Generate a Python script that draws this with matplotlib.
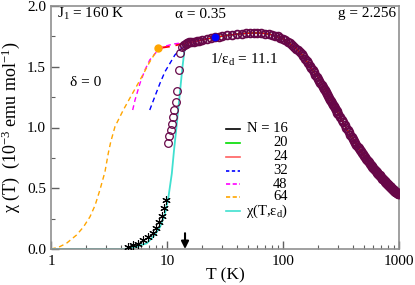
import matplotlib
matplotlib.use("Agg")
import matplotlib.pyplot as plt
from matplotlib.lines import Line2D

plt.rcParams['font.family'] = ['Liberation Serif', 'DejaVu Serif']
plt.rcParams['mathtext.fontset'] = 'custom'
plt.rcParams['mathtext.rm'] = 'Liberation Serif'
plt.rcParams['mathtext.it'] = 'Liberation Serif:italic'

# ---------------- data ----------------
# experimental data (open circles)
exp_T = [10.2, 10.5, 10.8, 11.0, 11.3, 11.6, 11.9, 12.2, 12.7, 13.0, 13.5,
         14, 14.5, 15, 15.5, 16, 17, 18, 19, 20, 22, 24, 26, 28, 30, 33, 36, 40,
         44, 48, 52, 56, 60, 65, 70, 75,
         80, 85, 90, 95, 100, 105, 110, 115, 120, 125, 130, 135, 140, 145, 150,
         155, 160, 165, 170, 175, 180, 185, 190, 195,
         200, 205, 210, 215, 220, 225, 230, 235, 240, 245, 250, 255, 260, 265,
         270, 275, 280, 285, 290, 295,
         300, 310, 320, 330, 340, 350, 360, 370, 380, 390,
         400, 410, 420, 430, 440, 450, 460, 470, 480, 490,
         500, 510, 520, 530, 540, 550, 560, 570, 580, 590,
         600, 610, 620, 630, 640, 650, 660, 670, 680, 690,
         700, 710, 720, 730, 740, 750, 760, 770, 780, 790,
         800, 810, 820, 830, 840, 850, 860, 870, 880, 890,
         900, 910, 920, 930, 940, 950, 960, 970, 980, 990, 1000]
exp_chi = [0.87, 0.93, 0.98, 1.03, 1.09, 1.14, 1.21, 1.30, 1.47, 1.61, 1.66,
           1.68, 1.69, 1.695, 1.70, 1.70, 1.705, 1.71, 1.715, 1.72, 1.73, 1.735,
           1.742, 1.748, 1.752, 1.758, 1.763, 1.768, 1.772, 1.775, 1.777, 1.778,
           1.778, 1.776, 1.773, 1.769,
           1.763, 1.757, 1.75, 1.74, 1.73, 1.718, 1.705, 1.693, 1.68, 1.665,
           1.65, 1.635, 1.62, 1.603, 1.585, 1.567, 1.549, 1.53, 1.51, 1.49,
           1.47, 1.453, 1.435, 1.418,
           1.400, 1.383, 1.367, 1.351, 1.335, 1.320, 1.305, 1.290, 1.275, 1.260,
           1.245, 1.230, 1.215, 1.201, 1.187, 1.173, 1.160, 1.147, 1.135, 1.122,
           1.110, 1.087, 1.064, 1.042, 1.021, 1.000, 0.980, 0.960, 0.941, 0.922,
           0.905, 0.889, 0.873, 0.858, 0.843, 0.830, 0.817, 0.803, 0.790, 0.778,
           0.766, 0.755, 0.744, 0.733, 0.722, 0.713, 0.703, 0.694, 0.685, 0.676,
           0.668, 0.660, 0.652, 0.644, 0.636, 0.628, 0.620, 0.613, 0.606, 0.599,
           0.592, 0.585, 0.579, 0.573, 0.567, 0.561, 0.555, 0.550, 0.544, 0.539,
           0.533, 0.527, 0.522, 0.517, 0.512, 0.507, 0.502, 0.497, 0.493, 0.489,
           0.485, 0.481, 0.477, 0.473, 0.470, 0.466, 0.463, 0.460, 0.457, 0.454,
           0.452]

# low-T experimental data (asterisks)
star_T = [4.6, 5.1, 5.6, 6.2, 6.9, 7.5, 8.1, 8.6, 9.0, 9.4, 9.8]
star_chi = [0.02, 0.03, 0.045, 0.07, 0.10, 0.13, 0.175, 0.22, 0.27, 0.335, 0.40]

# converged ED curve (N = 16, 20, 24 at high T)
model_T = [14, 16, 20, 26, 35, 45, 55, 65, 77, 100, 130, 150, 180, 208, 250,
           290, 350, 404, 480, 562, 680, 783, 900, 1000]
model_chi = [1.69, 1.70, 1.72, 1.742, 1.762, 1.773, 1.778, 1.777, 1.768, 1.73,
             1.65, 1.585, 1.47, 1.39, 1.25, 1.14, 0.995, 0.905, 0.79, 0.705,
             0.60, 0.54, 0.49, 0.455]

# low-T branches of the larger-N ED curves
n64_T = [1.0, 1.16, 1.36, 1.66, 1.9, 2.17, 2.4, 2.64, 2.92, 3.12, 3.27, 3.56,
         4.2, 4.95, 5.85, 7.1, 8.4]
n64_chi = [0.0, 0.014, 0.047, 0.115, 0.18, 0.266, 0.36, 0.486, 0.636, 0.79,
           0.88, 1.007, 1.144, 1.267, 1.39, 1.54, 1.652]
n48_T = [5.06, 5.3, 5.85, 6.45, 7.1, 8.15, 9.3, 11.3, 13.8]
n48_chi = [1.144, 1.226, 1.364, 1.473, 1.556, 1.624, 1.665, 1.687, 1.698]
n32_T = [7.1, 7.85, 8.7, 9.6, 10.6, 11.7, 12.9, 14.3]
n32_chi = [1.144, 1.254, 1.364, 1.459, 1.528, 1.597, 1.638, 1.679]
n24_T = [8.4, 8.7, 11.3, 13.8]
n24_chi = [1.652, 1.655, 1.671, 1.693]

# chi(T, eps_d)
cyan_T = [1.0, 2.0, 3.0, 4.0, 4.5, 5.0, 5.48, 6.0, 6.7, 7.6, 8.7, 9.6, 10.3,
          11.0, 11.5, 12.0, 12.9, 13.6, 14.1, 14.6]
cyan_chi = [0.0, 0.0, 0.0, 0.0, 0.002, 0.008, 0.02, 0.032, 0.047, 0.10, 0.18,
            0.29, 0.43, 0.62, 0.815, 0.98, 1.28, 1.50, 1.624, 1.685]

blue_dot = (26, 1.742)
orange_dot = (8.4, 1.652)
arrow_T = 14.3

legend_labels = ["N = 16", "20", "24", "32", "48", "64"]

# ---------------- figure ----------------
fig = plt.figure(figsize=(4.15, 2.85), dpi=100)
ax = fig.add_axes([51/415, 1-249/285, 348/415, 243/285])
ax.set_xscale('log')
ax.set_xlim(1, 1000)
ax.set_ylim(0, 2.0)

# lines (below circles)
ax.plot(model_T[3:], model_chi[3:], color='black', lw=1.0, zorder=2)
ax.plot(model_T[2:], model_chi[2:], color='#00dd00', lw=1.0, zorder=2)
ax.plot(model_T, model_chi, color='red', lw=1.0, zorder=2)
ax.plot(n24_T, n24_chi, color='red', lw=1.4, dashes=(6, 3), zorder=2)
ax.plot(n32_T, n32_chi, color='blue', lw=1.0, dashes=(3.5, 2.5), zorder=2)
ax.plot(n48_T, n48_chi, color='magenta', lw=1.0, dashes=(3.5, 2.5), zorder=2)
ax.plot(n64_T, n64_chi, color='orange', lw=1.0, dashes=(3.5, 2.5), zorder=2)
ax.plot(cyan_T, cyan_chi, color='#40e0d0', lw=1.3, zorder=2)

ax.plot(exp_T[:11], exp_chi[:11], 'o', ms=5.5, mfc='none', mec='#670748',
        mew=0.9, zorder=3)
ax.plot(exp_T[11:], exp_chi[11:], 'o', ms=5.6, mfc='none', mec='#670748',
        mew=1.3, zorder=3)
ax.plot(star_T, star_chi, marker=(6, 2, 0), ls='none', ms=6, color='black',
        mew=0.8, zorder=4)

ax.plot([blue_dot[0]], [blue_dot[1]], 'o', ms=4.5, color='blue', zorder=5)
ax.plot([orange_dot[0]], [orange_dot[1]], 'o', ms=5, color='orange', zorder=5)

ax.annotate('', xy=(arrow_T, 0.0), xytext=(arrow_T, 0.13),
            arrowprops=dict(arrowstyle='-|>', color='black', lw=1.5,
                            mutation_scale=11, shrinkA=0, shrinkB=0),
            zorder=6, annotation_clip=False)

# text
fs = 11
def fx(px):
    return (px - 51) / 348
def fy(py):
    return (249 - py) / 243

ax.text(fx(57), fy(14), "J$_1$ = 160 K", fontsize=fs, transform=ax.transAxes,
        ha='left', va='center')
ax.text(fx(200), fy(14), "α = 0.35", fontsize=fs, transform=ax.transAxes,
        ha='center', va='center')
ax.text(fx(396), fy(14), "g = 2.256", fontsize=fs, transform=ax.transAxes,
        ha='right', va='center')
ax.text(fx(70), fy(82), "δ = 0", fontsize=fs, transform=ax.transAxes,
        ha='left', va='center')
ax.text(fx(210), fy(60), "1/ε$_\\mathrm{d}$ = 11.1", fontsize=fs,
        transform=ax.transAxes, ha='left', va='center')

# manual legend
leg_styles = [dict(color='black'), dict(color='#00dd00'), dict(color='#ff6060'),
              dict(color='blue', dashes=(2, 1.5)), dict(color='magenta', dashes=(2.5, 1.5)),
              dict(color='orange', dashes=(2.5, 1.5)), dict(color='#40e0d0')]
rows = [129, 143, 157, 171, 184, 197, 211]
for i, st in enumerate(leg_styles):
    y = fy(rows[i])
    ax.add_line(Line2D([fx(226), fx(240)], [y, y], transform=ax.transAxes,
                       lw=1.2, **st))
    if i < len(legend_labels):
        ax.text(fx(287.5), y, legend_labels[i], fontsize=10.5,
                transform=ax.transAxes, ha='right', va='center')
ax.text(fx(246), fy(rows[6]), "χ(T,ε$_\\mathrm{d}$)", fontsize=10.5,
        transform=ax.transAxes, ha='left', va='center')

# axes styling
for s in ax.spines.values():
    s.set_color('#909090')
    s.set_linewidth(1.2)
ax.set_yticks([0, 0.5, 1.0, 1.5, 2.0])
ax.set_yticks([0.25, 0.75, 1.25, 1.75], minor=True)
ax.set_yticklabels(['0.0', '0.5', '1.0', '1.5', '2.0'])
ax.set_xticks([1, 10, 100, 1000])
ax.set_xticklabels(['1', '10', '100', '1000'])
ax.tick_params(which='both', direction='in', top=False, right=False,
               color='#606060', labelsize=fs)
ax.tick_params(which='major', length=6, width=1.0)
ax.tick_params(which='minor', length=3, width=0.8)
ax.tick_params(axis='x', pad=4)

ax.set_xlabel("T (K)", fontsize=12.5, labelpad=0)
ax.set_ylabel("χ (T)  (10$^{-3}$ emu mol$^{-1}$)", fontsize=13, labelpad=4)

fig.savefig("out.png", dpi=100)
